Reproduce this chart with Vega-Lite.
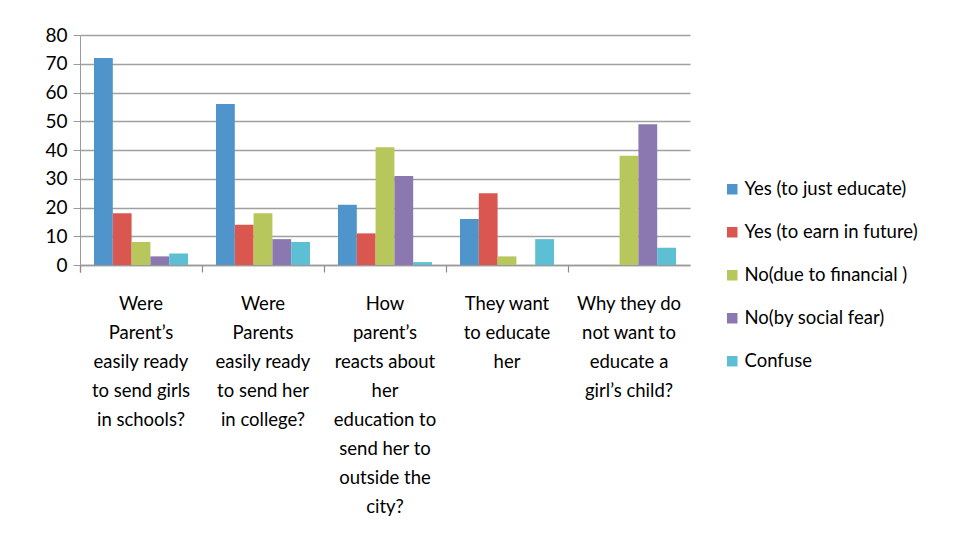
{
  "$schema": "https://vega.github.io/schema/vega-lite/v6.json",
  "width": 610,
  "height": 230,
  "autosize": "none",
  "padding": {"left": 80, "top": 35, "right": 277, "bottom": 271},
  "background": "white",
  "data": {
    "values": [
      {"q": "Were|Parent’s|easily ready|to send girls|in schools?", "s": "Yes (to just educate)", "v": 72},
      {"q": "Were|Parent’s|easily ready|to send girls|in schools?", "s": "Yes (to earn in future)", "v": 18},
      {"q": "Were|Parent’s|easily ready|to send girls|in schools?", "s": "No(due to financial )", "v": 8},
      {"q": "Were|Parent’s|easily ready|to send girls|in schools?", "s": "No(by social fear)", "v": 3},
      {"q": "Were|Parent’s|easily ready|to send girls|in schools?", "s": "Confuse", "v": 4},
      {"q": "Were|Parents|easily ready|to send her|in college?", "s": "Yes (to just educate)", "v": 56},
      {"q": "Were|Parents|easily ready|to send her|in college?", "s": "Yes (to earn in future)", "v": 14},
      {"q": "Were|Parents|easily ready|to send her|in college?", "s": "No(due to financial )", "v": 18},
      {"q": "Were|Parents|easily ready|to send her|in college?", "s": "No(by social fear)", "v": 9},
      {"q": "Were|Parents|easily ready|to send her|in college?", "s": "Confuse", "v": 8},
      {"q": "How|parent’s|reacts about|her|education to|send her to|outside the|city?", "s": "Yes (to just educate)", "v": 21},
      {"q": "How|parent’s|reacts about|her|education to|send her to|outside the|city?", "s": "Yes (to earn in future)", "v": 11},
      {"q": "How|parent’s|reacts about|her|education to|send her to|outside the|city?", "s": "No(due to financial )", "v": 41},
      {"q": "How|parent’s|reacts about|her|education to|send her to|outside the|city?", "s": "No(by social fear)", "v": 31},
      {"q": "How|parent’s|reacts about|her|education to|send her to|outside the|city?", "s": "Confuse", "v": 1},
      {"q": "They want|to educate|her", "s": "Yes (to just educate)", "v": 16},
      {"q": "They want|to educate|her", "s": "Yes (to earn in future)", "v": 25},
      {"q": "They want|to educate|her", "s": "No(due to financial )", "v": 3},
      {"q": "They want|to educate|her", "s": "No(by social fear)", "v": 0},
      {"q": "They want|to educate|her", "s": "Confuse", "v": 9},
      {"q": "Why they do|not want to|educate a|girl’s child?", "s": "Yes (to just educate)", "v": 0},
      {"q": "Why they do|not want to|educate a|girl’s child?", "s": "Yes (to earn in future)", "v": 0},
      {"q": "Why they do|not want to|educate a|girl’s child?", "s": "No(due to financial )", "v": 38},
      {"q": "Why they do|not want to|educate a|girl’s child?", "s": "No(by social fear)", "v": 49},
      {"q": "Why they do|not want to|educate a|girl’s child?", "s": "Confuse", "v": 6}
    ]
  },
  "mark": {"type": "bar"},
  "encoding": {
    "x": {
      "field": "q", "type": "nominal", "sort": null, "title": null,
      "scale": {"paddingInner": 0, "paddingOuter": 0},
      "axis": {
        "labelExpr": "split(datum.label, '|')",
        "labelAngle": 0,
        "labelLimit": 300,
        "labelFont": "Lato",
        "labelFontSize": 18.5,
        "labelLineHeight": 29,
        "labelColor": "black",
        "labelPadding": 22,
        "labelBaseline": "top",
        "bandPosition": 0,
        "tickExtra": true,
        "ticks": true,
        "tickColor": "#8a8a8a",
        "tickSize": 7,
        "tickWidth": 1.2,
        "domainColor": "#9a9a9a",
        "domainWidth": 1.3,
        "grid": false
      }
    },
    "xOffset": {"field": "s", "type": "nominal", "sort": null, "scale": {"paddingInner": 0, "paddingOuter": 0.745}},
    "y": {
      "field": "v", "type": "quantitative", "title": null,
      "scale": {"domain": [0, 80], "nice": false},
      "axis": {
        "values": [0, 10, 20, 30, 40, 50, 60, 70, 80],
        "labelFont": "Lato",
        "labelFontSize": 19,
        "labelColor": "black",
        "labelPadding": 6,
        "tickColor": "#9a9a9a",
        "tickSize": 7,
        "domainColor": "#9a9a9a",
        "gridColor": "#a0a0a0",
        "gridWidth": 1.5
      }
    },
    "color": {
      "field": "s", "type": "nominal", "sort": null, "title": null,
      "scale": {
        "domain": ["Yes (to just educate)", "Yes (to earn in future)", "No(due to financial )", "No(by social fear)", "Confuse"],
        "range": ["#4F95CB", "#DA5750", "#B8C75C", "#8C78B1", "#5DBFD3"]
      },
      "legend": {
        "orient": "none",
        "legendX": 643,
        "legendY": 145,
        "symbolType": "square",
        "symbolSize": 110,
        "symbolStrokeWidth": 0,
        "labelFont": "Lato",
        "labelFontSize": 18.5,
        "labelColor": "black",
        "labelLimit": 300,
        "rowPadding": 24,
        "labelOffset": 3
      }
    }
  },
  "config": {"view": {"stroke": null}}
}
